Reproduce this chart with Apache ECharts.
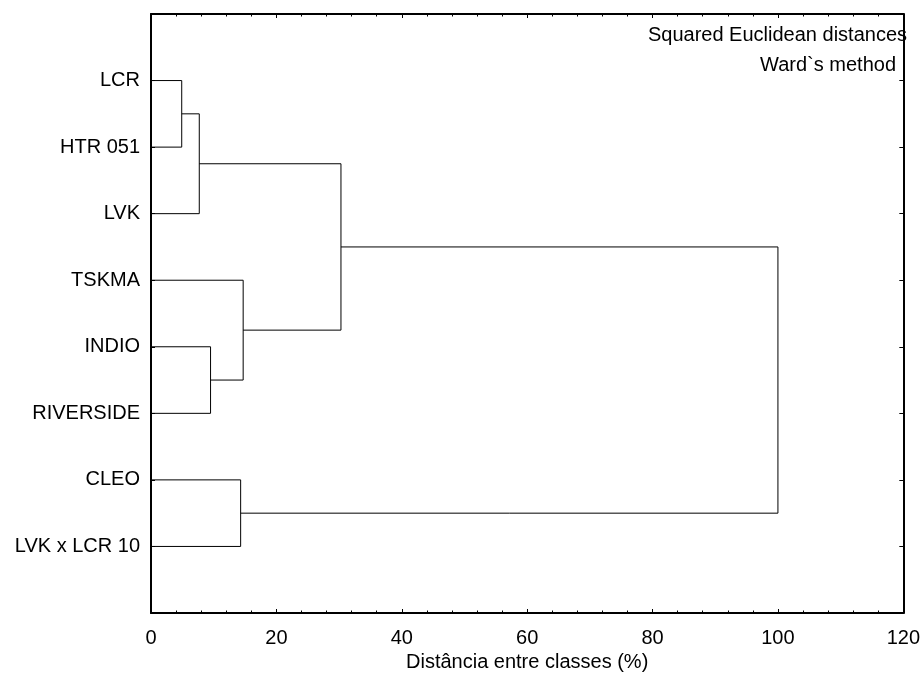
<!DOCTYPE html>
<html>
<head>
<meta charset="utf-8">
<script src="https://cdn.jsdelivr.net/npm/echarts@6/dist/echarts.min.js"></script>
<style>
  html, body { margin: 0; padding: 0; background: #fff; }
  #chart { width: 923px; height: 684px; }
</style>
</head>
<body>
<div id="chart"></div>
<script>
// Leaves of the tree, top to bottom
const leafLabels = ['LCR', 'HTR 051', 'LVK', 'TSKMA', 'INDIO', 'RIVERSIDE', 'CLEO', 'LVK x LCR 10'];

// Agglomeration steps (Ward). Leaves are nodes 0..7, each step creates node 8, 9, ...
const mergeLeft = [0, 8, 4, 6, 3, 9, 13];
const mergeRight = [1, 2, 5, 7, 10, 12, 11];
const mergeDistance = [4.9, 7.7, 9.5, 14.3, 14.7, 30.3, 100];

// Distance axis ticks
const xTicks = [0, 20, 40, 60, 80, 100, 120];

const FONT = "'Liberation Sans', Arial, sans-serif";
const FONT_SIZE = 20;

// Node positions: x = merge distance, y = leaf slot (1-based) or mean of children
const nodeX = leafLabels.map(() => 0);
const nodeY = leafLabels.map((_, i) => i + 1);
const links = [];
mergeDistance.forEach((d, k) => {
  const a = mergeLeft[k], b = mergeRight[k];
  links.push({
    coords: [[nodeX[a], nodeY[a]], [d, nodeY[a]], [d, nodeY[b]], [nodeX[b], nodeY[b]]]
  });
  nodeX.push(d);
  nodeY.push((nodeY[a] + nodeY[b]) / 2);
});

const slotValues = leafLabels.map((_, i) => i + 1);
const frameLine = { show: true, onZero: false, lineStyle: { color: '#000', width: 2 } };
const tickStyle = { color: '#000', width: 1 };

const chart = echarts.init(document.getElementById('chart'), null, { renderer: 'canvas' });
chart.setOption({
  backgroundColor: '#fff',
  animation: false,
  grid: { left: 151, right: 17, top: 14, bottom: 71, containLabel: false },
  xAxis: [
    {
      type: 'value', position: 'bottom', min: xTicks[0], max: xTicks[xTicks.length - 1], interval: 20,
      axisLine: frameLine,
      axisTick: { show: true, inside: true, length: 4, lineStyle: tickStyle },
      minorTick: { show: true, splitNumber: 5, length: 2.5, lineStyle: tickStyle },
      splitLine: { show: false },
      axisLabel: { color: '#000', fontFamily: FONT, fontSize: FONT_SIZE, margin: 15 },
      name: 'Distância entre classes (%)',
      nameLocation: 'middle', nameGap: 33,
      nameTextStyle: { color: '#000', fontFamily: FONT, fontSize: FONT_SIZE }
    },
    {
      type: 'value', position: 'top', min: xTicks[0], max: xTicks[xTicks.length - 1], interval: 20,
      axisLine: frameLine,
      axisTick: { show: true, inside: true, length: 4, lineStyle: tickStyle },
      minorTick: { show: true, splitNumber: 5, length: 2.5, lineStyle: tickStyle },
      splitLine: { show: false },
      axisLabel: { show: false }
    }
  ],
  yAxis: [
    {
      type: 'value', position: 'left', min: 0, max: leafLabels.length + 1, inverse: true,
      axisLine: frameLine,
      axisTick: { show: true, inside: true, length: 4, customValues: slotValues, lineStyle: tickStyle },
      splitLine: { show: false },
      axisLabel: {
        color: '#000', fontFamily: FONT, fontSize: FONT_SIZE, margin: 11,
        customValues: slotValues,
        formatter: v => leafLabels[Math.round(v) - 1] || ''
      }
    },
    {
      type: 'value', position: 'right', min: 0, max: leafLabels.length + 1, inverse: true,
      axisLine: frameLine,
      axisTick: { show: true, inside: true, length: 4, customValues: slotValues, lineStyle: tickStyle },
      splitLine: { show: false },
      axisLabel: { show: false }
    }
  ],
  graphic: [
    {
      type: 'text', right: 16, top: 25, z: 10,
      style: { text: 'Squared Euclidean distances', fill: '#000', font: FONT_SIZE + "px 'Liberation Sans', Arial, sans-serif" }
    },
    {
      type: 'text', right: 27, top: 55, z: 10,
      style: { text: 'Ward`s method', fill: '#000', font: FONT_SIZE + "px 'Liberation Sans', Arial, sans-serif" }
    }
  ],
  series: [
    {
      type: 'lines',
      coordinateSystem: 'cartesian2d',
      xAxisIndex: 0, yAxisIndex: 0,
      polyline: true,
      silent: true,
      lineStyle: { color: '#000', width: 1, opacity: 1 },
      data: links
    }
  ]
});
</script>
</body>
</html>
